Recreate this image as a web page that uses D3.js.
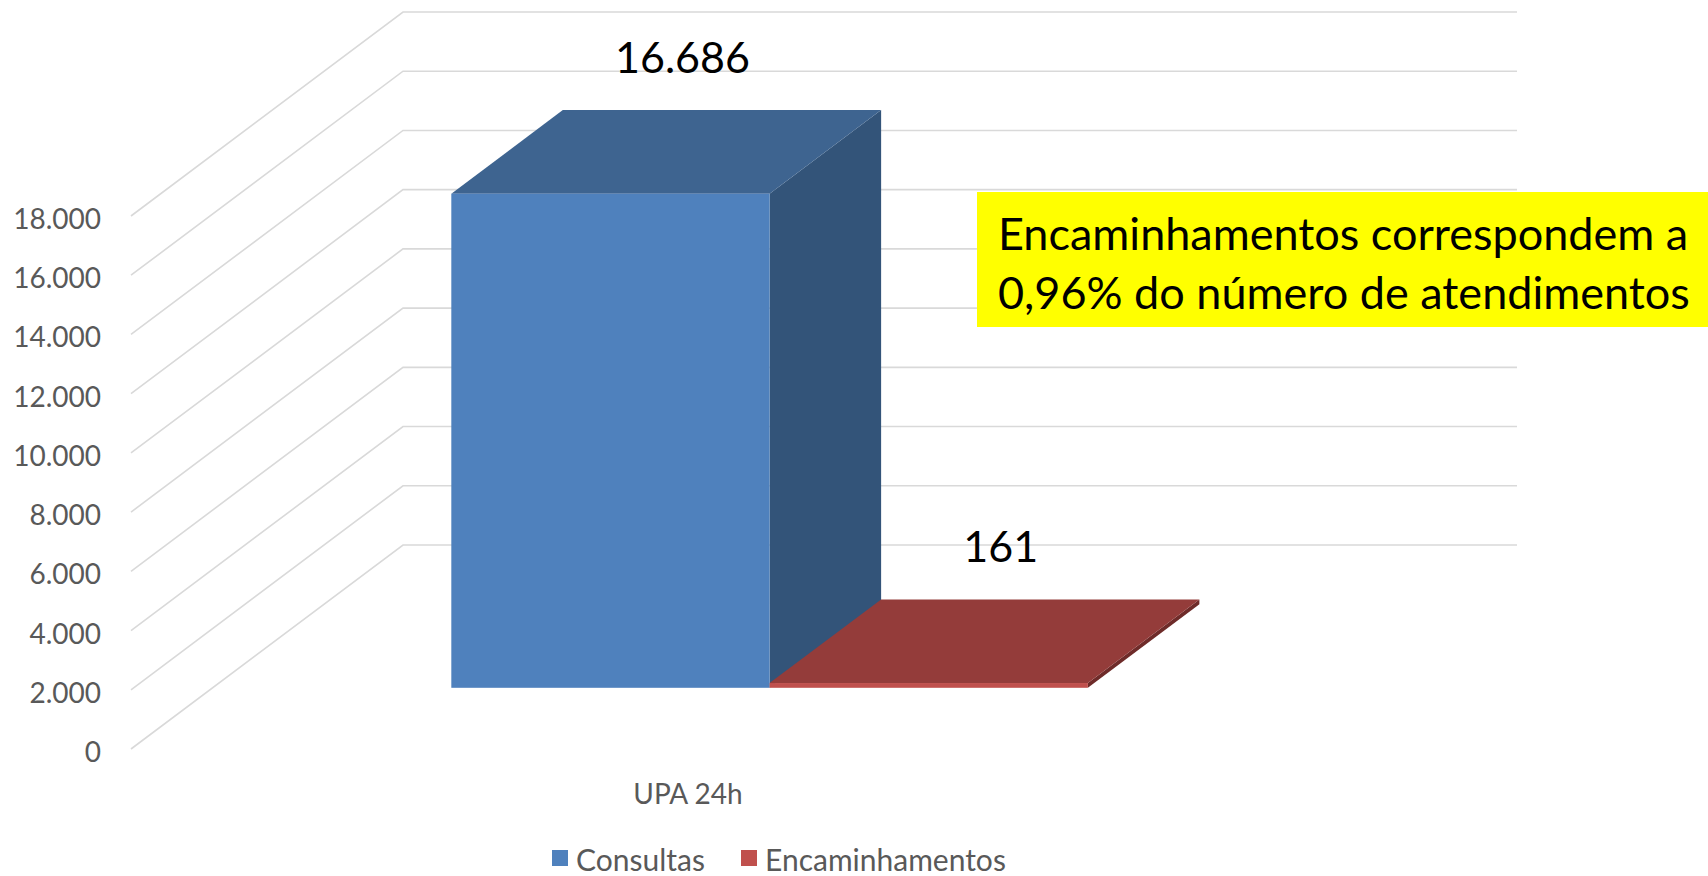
<!DOCTYPE html>
<html>
<head>
<meta charset="utf-8">
<script src="https://cdn.jsdelivr.net/npm/d3@7"></script>
<style>
  html, body { margin: 0; padding: 0; background: #ffffff; }
  svg { display: block; font-family: Lato, "Open Sans", sans-serif; }
</style>
</head>
<body>
<svg id="chart" width="1708" height="876"></svg>
<script>
// Chart data
const categories = ["UPA 24h"];
const seriesNames = ["Consultas", "Encaminhamentos"];
const consultas = [16686];
const encaminhamentos = [161];
const yTicks = [0, 2000, 4000, 6000, 8000, 10000, 12000, 14000, 16000, 18000];
const noteLines = ["Encaminhamentos correspondem a", "0,96% do número de atendimentos"];

const seriesValues = [consultas, encaminhamentos];
const fmt = v => d3.format(",")(v).replace(/,/g, ".");

const svg = d3.select("#chart");

// 3D oblique projection: front plane plus a depth offset
const floorLeft = 131, floorRight = 1245;
const DX = 272, DY = 204;          // offset from front plane to back wall
const depthFront = 0.30, depthBack = 0.71;

const y = d3.scaleLinear().domain([0, 18000]).range([749, 216]);
const x0 = d3.scaleBand().domain(categories).range([floorLeft, floorRight]);

const proj = (px, v, t) => [px + t * DX, y(v) - t * DY];

// Gridlines: left wall diagonal + back wall horizontal
const gridG = svg.append("g");
yTicks.forEach(v => {
  const a = proj(floorLeft, v, 0), b = proj(floorLeft, v, 1), c = proj(floorRight, v, 1);
  gridG.append("path")
    .attr("d", d3.line()([a, b, c]))
    .attr("fill", "none")
    .attr("stroke", "#d9d9d9")
    .attr("stroke-width", 1.6);
});

// Y axis labels
svg.append("g").selectAll("text").data(yTicks).join("text")
  .attr("x", 101)
  .attr("y", d => y(d) + 2)
  .attr("text-anchor", "end")
  .attr("dominant-baseline", "central")
  .attr("font-size", 28)
  .attr("fill", "#595959")
  .text(d => fmt(d));

// Bars
const faceColors = {
  Consultas: { front: "#4f81bd", top: "#3e6490", side: "#335479" },
  Encaminhamentos: { front: "#c0504d", top: "#943c3a", side: "#6e2b29" }
};

const barG = svg.append("g");
categories.forEach((cat, ci) => {
  const cx = x0(cat), cw = x0.bandwidth();
  const barW = cw / (seriesNames.length + 1.5);
  const x1 = d3.scaleBand().domain(seriesNames)
    .range([cx + 0.75 * barW, cx + cw - 0.75 * barW]);

  seriesNames.forEach((s, si) => {
    const v = seriesValues[si][ci];
    const xl = x1(s), xr = xl + x1.bandwidth();
    const col = faceColors[s];
    const poly = pts => "M" + pts.map(p => p.join(",")).join("L") + "Z";

    // side face
    barG.append("path")
      .attr("d", poly([proj(xr, v, depthFront), proj(xr, v, depthBack), proj(xr, 0, depthBack), proj(xr, 0, depthFront)]))
      .attr("fill", col.side);
    // top face
    barG.append("path")
      .attr("d", poly([proj(xl, v, depthFront), proj(xr, v, depthFront), proj(xr, v, depthBack), proj(xl, v, depthBack)]))
      .attr("fill", col.top);
    // front face
    const f0 = proj(xl, v, depthFront), f1 = proj(xr, 0, depthFront);
    barG.append("rect")
      .attr("x", f0[0]).attr("y", f0[1])
      .attr("width", f1[0] - f0[0]).attr("height", f1[1] - f0[1])
      .attr("fill", col.front);

    // value label above the bar
    const lx = (f0[0] + f1[0]) / 2 + 72;
    const ly = proj(xl, v, depthBack)[1] - 54;
    svg.append("text")
      .attr("x", lx).attr("y", ly)
      .attr("text-anchor", "middle")
      .attr("dominant-baseline", "central")
      .attr("font-size", 43)
      .attr("fill", "#000000")
      .text(fmt(v));
  });

  // category label
  svg.append("text")
    .attr("x", cx + cw / 2).attr("y", 793)
    .attr("text-anchor", "middle")
    .attr("dominant-baseline", "central")
    .attr("font-size", 28)
    .attr("fill", "#595959")
    .text(cat);
});

// Legend
const legendItems = [
  { name: "Consultas", color: "#4f81bd", x: 552 },
  { name: "Encaminhamentos", color: "#c0504d", x: 741 }
];
const legG = svg.append("g");
legendItems.forEach(d => {
  legG.append("rect").attr("x", d.x).attr("y", 850).attr("width", 16).attr("height", 16).attr("fill", d.color);
  legG.append("text")
    .attr("x", d.x + 24).attr("y", 859)
    .attr("dominant-baseline", "central")
    .attr("font-size", 30)
    .attr("fill", "#595959")
    .text(d.name);
});

// Highlighted note box
const noteG = svg.append("g");
noteG.append("rect")
  .attr("x", 977).attr("y", 192)
  .attr("width", 1708 - 977).attr("height", 135)
  .attr("fill", "#ffff00");
noteG.selectAll("text").data(noteLines).join("text")
  .attr("x", 998)
  .attr("y", (d, i) => 233 + i * 59)
  .attr("dominant-baseline", "central")
  .attr("font-size", 45)
  .attr("fill", "#000000")
  .text(d => d);
</script>
</body>
</html>
